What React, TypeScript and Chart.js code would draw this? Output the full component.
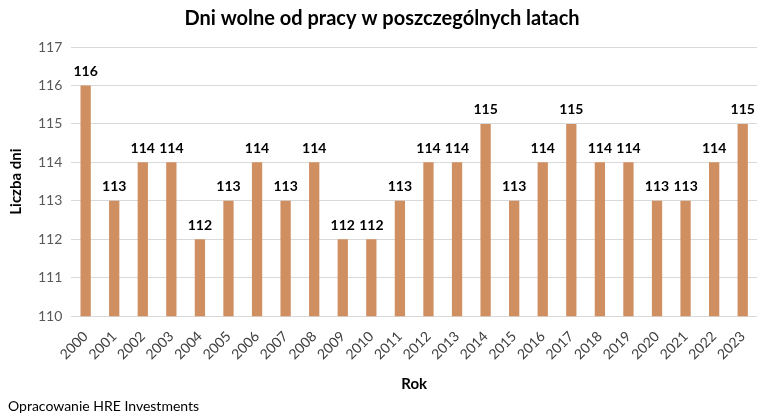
import React, { useEffect, useRef } from "react";
import { Chart, registerables } from "chart.js";

Chart.register(...registerables);

const years = ["2000","2001","2002","2003","2004","2005","2006","2007","2008","2009","2010","2011","2012","2013","2014","2015","2016","2017","2018","2019","2020","2021","2022","2023"];
const daysOff = [116,113,114,114,112,113,114,113,114,112,112,113,114,114,115,113,114,115,114,114,113,113,114,115];
const chartTitle = "Dni wolne od pracy w poszczególnych latach";
const yTitle = "Liczba dni";
const xTitle = "Rok";
const footerText = "Opracowanie HRE Investments";

const FONT = "Lato, 'Open Sans', sans-serif";

const labelsPlugin = {
  id: "barLabels",
  afterDatasetsDraw(chart: any) {
    const ctx = chart.ctx;
    const meta = chart.getDatasetMeta(0);
    ctx.save();
    ctx.font = `bold 14px ${FONT}`;
    ctx.fillStyle = "#000000";
    ctx.textAlign = "center";
    ctx.textBaseline = "bottom";
    meta.data.forEach((bar: any, i: number) => {
      ctx.fillText(String(daysOff[i]), bar.x, bar.y - 7);
    });
    ctx.restore();
  },
};

const footerPlugin = {
  id: "footerText",
  afterDraw(chart: any) {
    const ctx = chart.ctx;
    ctx.save();
    ctx.font = `14px ${FONT}`;
    ctx.fillStyle = "#000000";
    ctx.textAlign = "left";
    ctx.textBaseline = "middle";
    ctx.fillText(footerText, 8, 406);
    ctx.restore();
  },
};

export default function App() {
  const ref = useRef<HTMLCanvasElement>(null);
  useEffect(() => {
    if (!ref.current) return;
    const chart = new Chart(ref.current, {
      type: "bar",
      data: {
        labels: years,
        datasets: [
          {
            data: daysOff,
            backgroundColor: "#D08F61",
            barPercentage: 0.36,
            categoryPercentage: 1,
          },
        ],
      },
      options: {
        animation: false,
        responsive: false,
        maintainAspectRatio: false,
        layout: { padding: { left: 7, right: 14, top: 4, bottom: 27 } },
        plugins: {
          legend: { display: false },
          tooltip: { enabled: false },
          title: {
            display: true,
            text: chartTitle,
            color: "#000000",
            font: { family: FONT, size: 20, weight: "bold" },
            padding: { top: 3, bottom: 16 },
          },
        },
        scales: {
          x: {
            grid: { display: false },
            border: { display: false },
            ticks: {
              color: "#404040",
              font: { family: FONT, size: 14 },
              minRotation: 45,
              maxRotation: 45,
              autoSkip: false,
              padding: 4,
            },
            title: {
              display: true,
              text: xTitle,
              color: "#000000",
              font: { family: FONT, size: 15, weight: "bold" },
              padding: { top: 8, bottom: 0 },
            },
          },
          y: {
            min: 110,
            max: 117,
            grid: { color: "#D9D9D9", drawTicks: false },
            border: { display: false },
            ticks: {
              stepSize: 1,
              color: "#595959",
              font: { family: FONT, size: 14 },
              padding: 9,
            },
            title: {
              display: true,
              text: yTitle,
              color: "#000000",
              font: { family: FONT, size: 15, weight: "bold" },
              padding: { top: 0, bottom: 4 },
            },
          },
        },
      },
      plugins: [labelsPlugin, footerPlugin],
    });
    return () => chart.destroy();
  }, []);
  return (
    <div style={{ position: "fixed", left: 0, top: 0, width: 771, height: 420, background: "#fff" }}>
      <canvas ref={ref} width={771} height={420} style={{ width: 771, height: 420 }} />
    </div>
  );
}
